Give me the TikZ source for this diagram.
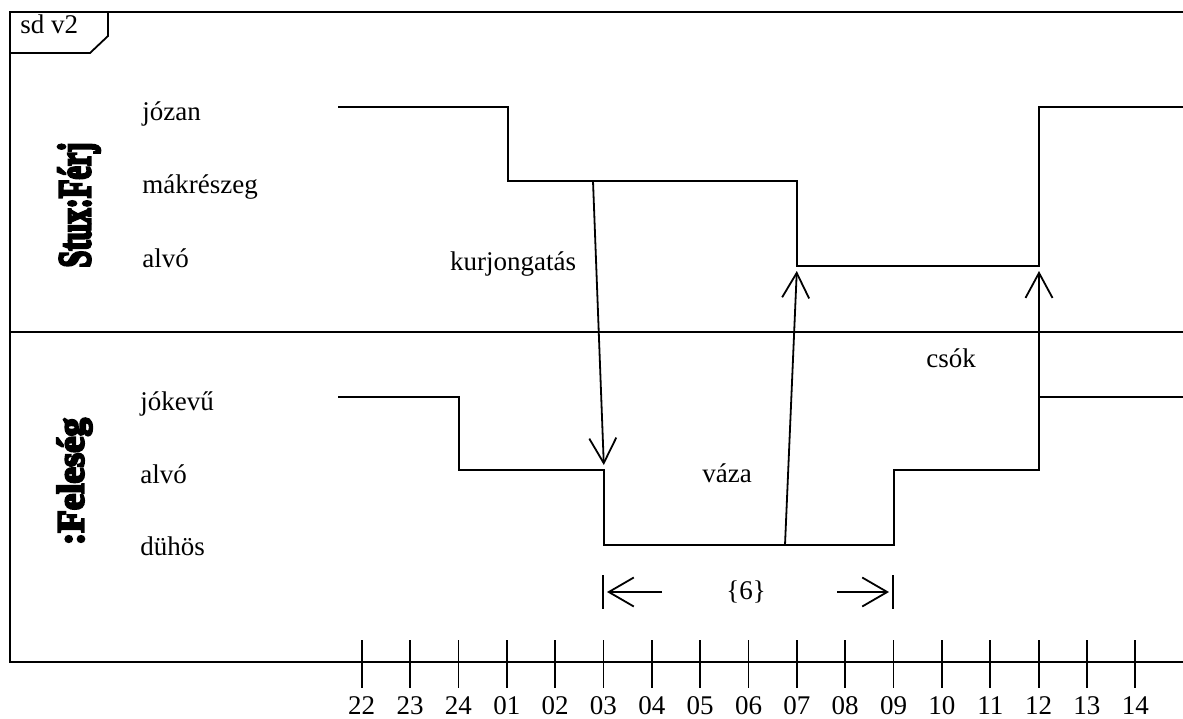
\documentclass[tikz,border=0pt]{standalone}
\usepackage{fontspec}
\setmainfont{Liberation Serif}
\newfontfamily\heavyfont{Liberation Serif}[UprightFont={* Bold},FakeBold=6]
\usetikzlibrary{arrows.meta}
\begin{document}
\begin{tikzpicture}[x=0.5pt,y=-0.5pt,
  line/.style={line width=0.9pt},
  msg/.style={line width=0.9pt,-{Straight Barb[length=12.5pt,width=13.5pt]},shorten >=2.5pt},
  dur/.style={line width=0.9pt,-{Straight Barb[length=12.5pt,width=14.5pt]}},
  lbl/.style={anchor=base west,inner sep=0pt,font=\fontsize{13.5pt}{16pt}\selectfont},
  txt/.style={anchor=base,inner sep=0pt,font=\fontsize{13.5pt}{16pt}\selectfont},
  lane/.style={rotate=90,inner sep=0pt}]
\useasboundingbox (0,0) rectangle (1183,718);
% frame
\coordinate (frTR) at (1183,12);
\coordinate (frTL) at (10,12);
\coordinate (frBL) at (10,662);
\coordinate (frBR) at (1183,662);
\draw[line] (frTR) -- (frTL) -- (frBL) -- (frBR);
\coordinate (tabA) at (10,53);
\coordinate (tabB) at (90,53);
\coordinate (tabC) at (108,36);
\coordinate (tabD) at (108,12);
\draw[line] (tabA) -- (tabB) -- (tabC) -- (tabD);
\node[lbl] (sd) at (20,33) {sd v2};
% lane divider
\coordinate (divL) at (10,332);
\coordinate (divR) at (1183,332);
\draw[line] (divL) -- (divR);
% lane names
\node[lane] (ferj) at (79,205) {\resizebox*{62.5pt}{21pt}{\heavyfont Stux:Férj}};
\node[lane] (feleseg) at (74.5,481.5) {\resizebox*{63.5pt}{17.5pt}{\heavyfont :Feleség}};
% state labels
\node[lbl] (s1) at (142,120) {józan};
\node[lbl] (s2) at (142,193) {mákrészeg};
\node[lbl] (s3) at (142,267) {alvó};
\node[lbl] (s4) at (140,410) {jókevű};
\node[lbl] (s5) at (140,483) {alvó};
\node[lbl] (s6) at (140,555) {dühös};
% Ferj timeline
\coordinate (f0) at (338,107);
\coordinate (f1) at (508,107);
\coordinate (f2) at (508,181);
\coordinate (f3) at (797,181);
\coordinate (f4) at (797,266);
\coordinate (f5) at (1039,266);
\coordinate (f6) at (1039,107);
\coordinate (f7) at (1183,107);
\draw[line] (f0) -- (f1) -- (f2) -- (f3) -- (f4) -- (f5) -- (f6) -- (f7);
% Feleseg timeline
\coordinate (w0) at (338,397);
\coordinate (w1) at (459,397);
\coordinate (w2) at (459,470);
\coordinate (w3) at (604,470);
\coordinate (w4) at (604,545);
\coordinate (w5) at (894,545);
\coordinate (w6) at (894,470);
\coordinate (w7) at (1039,470);
\coordinate (w8) at (1039,397);
\coordinate (w9) at (1183,397);
\draw[line] (w0) -- (w1) -- (w2) -- (w3) -- (w4) -- (w5) -- (w6) -- (w7) -- (w8) -- (w9);
% messages
\coordinate (m1s) at (593,181);
\coordinate (m2s) at (785,545);
\draw[msg] (m1s) -- (w3);
\draw[msg] (m2s) -- (f4);
\draw[msg] (w7) -- (f5);
\node[txt] (l1) at (513,270) {kurjongatás};
\node[txt] (l2) at (727,482) {váza};
\node[txt] (l3) at (951,367) {csók};
% duration constraint
\coordinate (d1t) at (603,575);
\coordinate (d1b) at (603,609);
\coordinate (d2t) at (893,575);
\coordinate (d2b) at (893,609);
\draw[line] (d1t) -- (d1b);
\draw[line] (d2t) -- (d2b);
\coordinate (a1s) at (662,592);
\coordinate (a1e) at (607,592);
\coordinate (a2s) at (837,592);
\coordinate (a2e) at (889,592);
\draw[dur] (a1s) -- (a1e);
\draw[dur] (a2s) -- (a2e);
\node[txt,anchor=center] (dl) at (746,592) {\{6\}};
% time axis ticks
\foreach \l [count=\i from 0] in {22,23,24,01,02,03,04,05,06,07,08,09,10,11,12,13,14}{
  \coordinate (tt\i) at ({361.7+48.35*\i},640);
  \coordinate (tb\i) at ({361.7+48.35*\i},688);
  \draw[line] (tt\i) -- (tb\i);
  \node[txt] (tl\i) at ({361.7+48.35*\i},714) {\l};
}
\end{tikzpicture}
\end{document}
